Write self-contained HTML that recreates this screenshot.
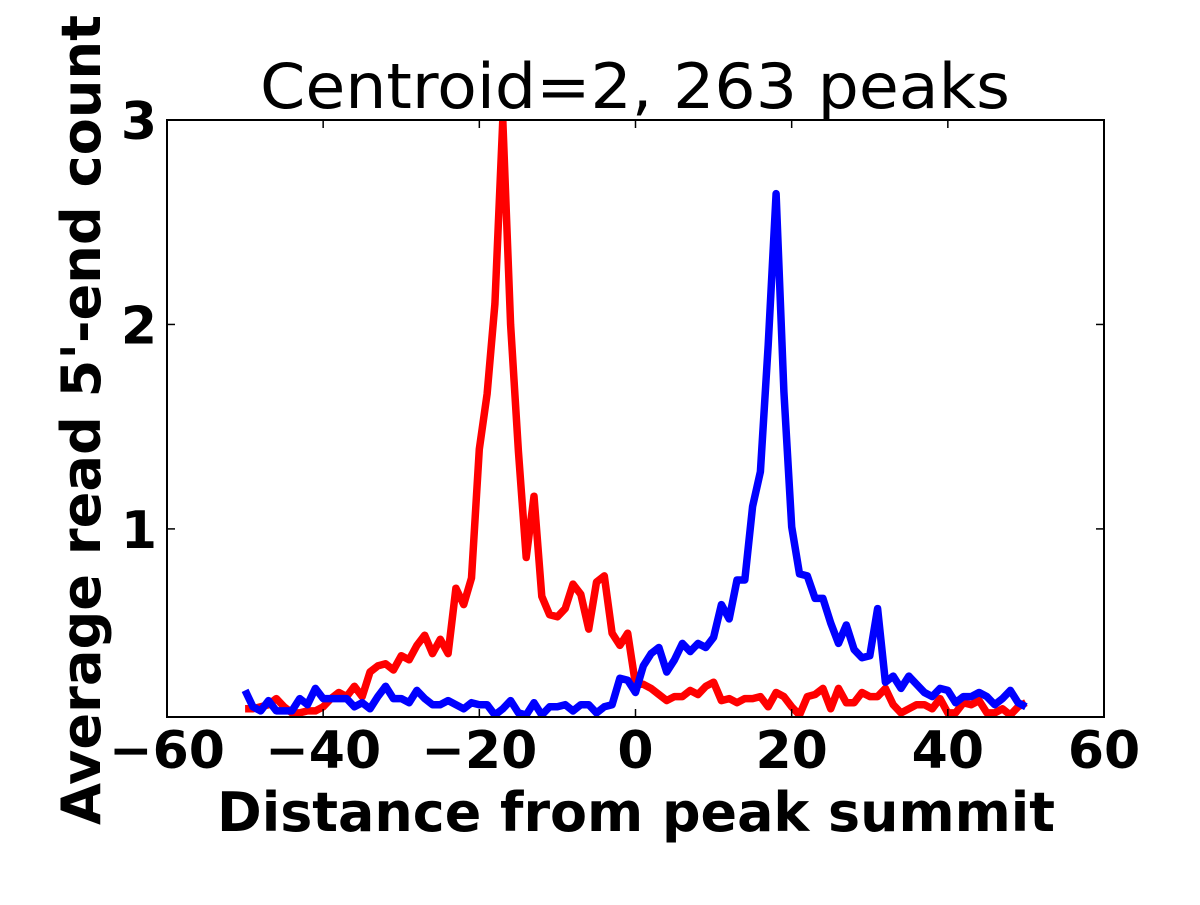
<!DOCTYPE html>
<html><head><meta charset="utf-8"><style>
html,body{margin:0;padding:0;background:#fff}
svg text{font-family:"DejaVu Sans","Liberation Sans",sans-serif}
</style></head><body>
<svg id="chart" width="1200" height="900" xmlns="http://www.w3.org/2000/svg">
<rect width="1200" height="900" fill="#fff"/>
<text x="635" y="108" font-size="62" text-anchor="middle" textLength="750" lengthAdjust="spacingAndGlyphs">Centroid=2, 263 peaks</text>
<g id="plot"></g>
<text x="636" y="831" font-size="54" font-weight="bold" text-anchor="middle" textLength="838" lengthAdjust="spacingAndGlyphs">Distance from peak summit</text>
<text transform="translate(100,420) rotate(-90)" font-size="54" font-weight="bold" text-anchor="middle" textLength="810" lengthAdjust="spacingAndGlyphs">Average read 5'-end count</text>
</svg>
<script>
const xs = [];
for (let v = -50; v <= 50; v++) xs.push(v);
const redValues = [0.12,0.12,0.13,0.14,0.17,0.13,0.10,0.10,0.11,0.11,0.13,0.17,0.20,0.18,0.23,0.18,0.30,0.33,0.34,0.31,0.38,0.36,0.43,0.48,0.39,0.46,0.39,0.71,0.63,0.76,1.39,1.66,2.10,3.0,2.0,1.38,0.86,1.16,0.67,0.58,0.57,0.61,0.73,0.68,0.51,0.74,0.77,0.49,0.43,0.49,0.24,
0.24,0.22,0.19,0.16,0.18,0.18,0.21,0.19,0.23,0.25,0.16,0.17,0.15,0.17,0.17,0.18,0.13,0.20,0.18,0.13,0.09,0.18,0.19,0.22,0.12,0.22,0.15,0.15,0.20,0.18,0.18,0.22,0.14,0.10,0.12,0.14,0.14,0.12,0.17,0.10,0.10,0.15,0.14,0.16,0.10,0.10,0.12,0.09,0.13,0.15,0.15];
const blueValues = [0.21,0.13,0.11,0.16,0.11,0.11,0.11,0.17,0.14,0.22,0.17,0.17,0.17,0.17,0.13,0.15,0.12,0.18,0.23,0.17,0.17,0.15,0.21,0.17,0.14,0.14,0.16,0.14,0.12,0.15,0.14,0.14,0.09,0.12,0.16,0.10,0.09,0.15,0.09,0.13,0.13,0.14,0.11,0.14,0.14,0.10,0.13,0.14,0.27,0.26,0.20,
0.33,0.39,0.42,0.30,0.36,0.44,0.40,0.44,0.42,0.47,0.63,0.56,0.75,0.75,1.11,1.28,1.90,2.64,1.67,1.01,0.78,0.77,0.66,0.66,0.54,0.44,0.53,0.41,0.37,0.38,0.61,0.25,0.28,0.22,0.28,0.24,0.20,0.18,0.22,0.21,0.15,0.18,0.18,0.20,0.18,0.14,0.17,0.21,0.15,0.13];
const xTicks = [-60,-40,-20,0,20,40,60];
const xTickLabels = ["\u221260","\u221240","\u221220","0","20","40","60"];
const yTicks = [1,2,3];
const yTickLabels = ["1","2","3"];

const L=167,R=1104,T=120,B=717, XMIN=-60,XMAX=60,YMIN=0.08,YMAX=3;
const sx=v=>L+(v-XMIN)/(XMAX-XMIN)*(R-L);
const sy=v=>B-(v-YMIN)/(YMAX-YMIN)*(B-T);
const NS="http://www.w3.org/2000/svg";
const g=document.getElementById('plot');
function mk(t,a){const e=document.createElementNS(NS,t);for(const k in a)e.setAttribute(k,a[k]);g.appendChild(e);return e;}
const cp=mk('clipPath',{id:'clip'});
const cr=document.createElementNS(NS,'rect');cr.setAttribute('x',L);cr.setAttribute('y',T);cr.setAttribute('width',R-L);cr.setAttribute('height',B-T);cp.appendChild(cr);
function line(vals,color,name){
  const d=vals.map((v,i)=>(i?'L':'M')+sx(xs[i]).toFixed(1)+' '+sy(v).toFixed(1)).join(' ');
  const p=mk('path',{d:d,fill:'none',stroke:color,'stroke-width':7.5,'stroke-linejoin':'round','clip-path':'url(#clip)'});
  
  
}
line(redValues,'#ff0000','red-series-line');
line(blueValues,'#0000ff','blue-series-line');
const fr=mk('rect',{x:L,y:T,width:R-L,height:B-T,fill:'none',stroke:'#000','stroke-width':2});


xTicks.forEach((v,i)=>{
  const x=sx(v);
  mk('line',{x1:x,x2:x,y1:B,y2:B-8,stroke:'#000','stroke-width':1.5});
  mk('line',{x1:x,x2:x,y1:T,y2:T+8,stroke:'#000','stroke-width':1.5});
  const t=mk('text',{x:x,y:768,'font-size':52,'font-weight':'bold','text-anchor':'middle'});
  t.textContent=xTickLabels[i];
  
  
});
yTicks.forEach((v,i)=>{
  const y=sy(v);
  mk('line',{x1:L,x2:L+8,y1:y,y2:y,stroke:'#000','stroke-width':1.5});
  mk('line',{x1:R,x2:R-8,y1:y,y2:y,stroke:'#000','stroke-width':1.5});
  const t=mk('text',{x:157,y:y+19,'font-size':52,'font-weight':'bold','text-anchor':'end'});
  t.textContent=yTickLabels[i];
  
  
});
</script>
</body></html>
